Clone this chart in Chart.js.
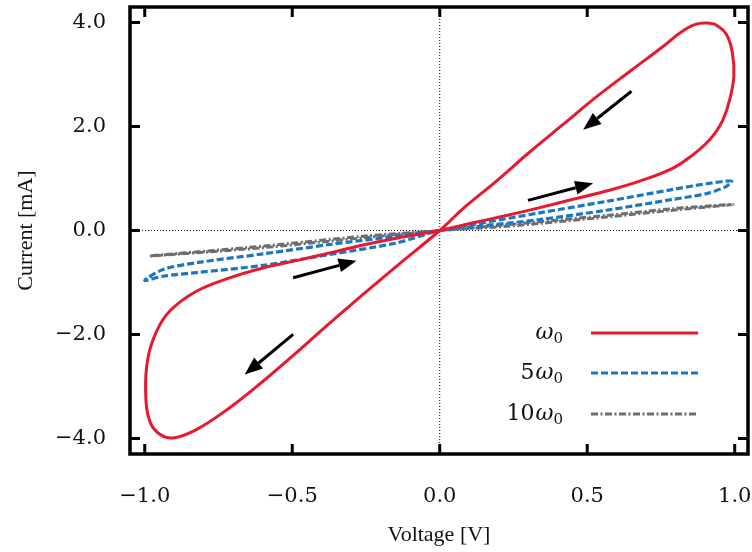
<!DOCTYPE html>
<html>
<head>
<meta charset="utf-8">
<script src="https://cdn.jsdelivr.net/npm/chart.js@4"></script>
<style>
  body { margin: 0; background: #fff; }
  canvas { display: block; }
</style>
</head>
<body>
<canvas id="loopChart" width="752" height="552"></canvas>
<script>
// Pinched hysteresis loops (voltage [V], current [mA])
const redV = [0, 0.113, 0.226, 0.339, 0.452, 0.565, 0.678, 0.791, 0.859, 0.90, 0.93, 0.960, 0.983, 0.997, 0.992, 0.972, 0.938, 0.904, 0.864, 0.814, 0.757, 0.644, 0.531, 0.418, 0.305, 0.192, 0.079, 0,
  -0.147, -0.260, -0.373, -0.486, -0.599, -0.712, -0.825, -0.904, -0.949, -0.983, -0.997, -0.989, -0.960, -0.915, -0.825, -0.712, -0.599, -0.486, -0.373, -0.260, -0.147, 0];
const redI = [0, 0.148, 0.29, 0.44, 0.60, 0.76, 0.95, 1.20, 1.46, 1.66, 1.85, 2.13, 2.52, 2.97, 3.42, 3.77, 3.95, 3.99, 3.96, 3.80, 3.54, 3.06, 2.57, 2.04, 1.51, 0.95, 0.42, 0,
  -0.69, -1.23, -1.78, -2.35, -2.90, -3.41, -3.83, -3.99, -3.92, -3.67, -3.09, -2.45, -1.94, -1.55, -1.17, -0.91, -0.72, -0.58, -0.43, -0.28, -0.15, 0];

const blueV = [0, 0.113, 0.339, 0.565, 0.791, 0.904, 0.989, 0.972, 0.904, 0.791, 0.565, 0.339, 0.113, 0,
  -0.147, -0.373, -0.599, -0.825, -0.938, -1.0, -0.938, -0.825, -0.599, -0.373, -0.147, 0];
const blueI = [0, 0.115, 0.34, 0.56, 0.79, 0.90, 0.95, 0.85, 0.71, 0.60, 0.39, 0.21, 0.07, 0,
  -0.24, -0.46, -0.67, -0.81, -0.88, -0.96, -0.75, -0.62, -0.45, -0.27, -0.11, 0];

const grayV = [0, 0.226, 0.565, 0.79, 0.994, 0.79, 0.565, 0.226, 0, -0.26, -0.599, -0.983, -0.599, -0.26, 0];
const grayI = [0, 0.11, 0.29, 0.42, 0.50, 0.39, 0.26, 0.08, 0, -0.14, -0.33, -0.49, -0.30, -0.11, 0];

const seriesPrefix = ['', '5', '10'];   // legend: ω0, 5ω0, 10ω0
const xTicks = [-1.0, -0.5, 0.0, 0.5, 1.0];
const yTicks = [-4.0, -2.0, 0.0, 2.0, 4.0];

// direction arrows: [fromV, fromI, toV, toI]
const arrows = [
  [0.65, 2.68, 0.486, 1.94],
  [0.299, 0.58, 0.52, 0.91],
  [-0.497, -2.0, -0.661, -2.77],
  [-0.497, -0.91, -0.282, -0.58]
];

const toPoints = (vs, is) => vs.map((v, k) => ({ x: v, y: is[k] }));
const fmt = v => (v < 0 ? '\u2212' : '') + Math.abs(v).toFixed(1);

const tickFont = { family: 'DejaVu Serif', size: 21 };
const titleFont = { family: 'Liberation Serif', size: 22 };

// frame, inward ticks on all sides, dotted zero lines
const framePlugin = {
  id: 'frame',
  beforeDatasetsDraw(chart) {
    const { ctx, chartArea: a, scales: { x, y } } = chart;
    ctx.save();
    ctx.strokeStyle = '#000';
    ctx.lineWidth = 1;
    ctx.setLineDash([1, 2]);
    const x0 = x.getPixelForValue(0), y0 = y.getPixelForValue(0);
    ctx.beginPath();
    ctx.moveTo(x0, a.top); ctx.lineTo(x0, a.bottom);
    ctx.moveTo(a.left, y0); ctx.lineTo(a.right, y0);
    ctx.stroke();
    ctx.restore();
  },
  afterDatasetsDraw(chart) {
    const { ctx, chartArea: a, scales: { x, y } } = chart;
    ctx.save();
    ctx.strokeStyle = '#000';
    ctx.lineWidth = 3;
    const len = 10;
    ctx.beginPath();
    xTicks.forEach(t => {
      const px = x.getPixelForValue(t);
      ctx.moveTo(px, a.bottom); ctx.lineTo(px, a.bottom - len);
      ctx.moveTo(px, a.top); ctx.lineTo(px, a.top + len);
    });
    yTicks.forEach(t => {
      const py = y.getPixelForValue(t);
      ctx.moveTo(a.left, py); ctx.lineTo(a.left + len, py);
      ctx.moveTo(a.right, py); ctx.lineTo(a.right - len, py);
    });
    ctx.stroke();
    ctx.lineWidth = 3.5;
    ctx.strokeRect(a.left, a.top, a.right - a.left, a.bottom - a.top);

    // arrows
    ctx.fillStyle = '#000';
    ctx.lineWidth = 3;
    arrows.forEach(([v1, i1, v2, i2]) => {
      const xa = x.getPixelForValue(v1), ya = y.getPixelForValue(i1);
      const xb = x.getPixelForValue(v2), yb = y.getPixelForValue(i2);
      const ang = Math.atan2(yb - ya, xb - xa);
      const hl = 18, hw = 7;
      const bx = xb - hl * Math.cos(ang), by = yb - hl * Math.sin(ang);
      ctx.beginPath();
      ctx.moveTo(xa, ya); ctx.lineTo(bx, by);
      ctx.stroke();
      ctx.beginPath();
      ctx.moveTo(xb, yb);
      ctx.lineTo(bx + hw * Math.sin(ang), by - hw * Math.cos(ang));
      ctx.lineTo(bx - hw * Math.sin(ang), by + hw * Math.cos(ang));
      ctx.closePath();
      ctx.fill();
    });

    // legend
    const rows = [333, 373, 414];
    const textRight = 563, lineL = 591, lineR = 698;
    chart.data.datasets.forEach((ds, k) => {
      const ry = rows[k];
      ctx.strokeStyle = ds.borderColor;
      ctx.lineWidth = ds.borderWidth;
      ctx.setLineDash(ds.borderDash || []);
      ctx.beginPath();
      ctx.moveTo(lineL, ry); ctx.lineTo(lineR, ry);
      ctx.stroke();
      ctx.setLineDash([]);

      ctx.fillStyle = '#111';
      ctx.textBaseline = 'alphabetic';
      ctx.textAlign = 'left';
      ctx.font = '15px "DejaVu Serif"';
      const subW = ctx.measureText('0').width;
      const subX = textRight - subW;
      ctx.fillText('0', subX, ry + 10);
      ctx.font = 'italic 22px "DejaVu Serif"';
      const wW = ctx.measureText('\u03c9').width;
      const wX = subX - wW;
      ctx.fillText('\u03c9', wX, ry + 6);
      if (seriesPrefix[k]) {
        ctx.font = '22px "DejaVu Serif"';
        ctx.textAlign = 'right';
        ctx.fillText(seriesPrefix[k], wX - 1, ry + 6);
      }
    });
    ctx.restore();
  }
};

const ctx = document.getElementById('loopChart').getContext('2d');

new Chart(ctx, {
  type: 'scatter',
  data: {
    datasets: [
      {
        label: 'ω0',
        data: toPoints(redV, redI),
        borderColor: '#e8192e',
        borderWidth: 3,
        showLine: true,
        tension: 0.4,
        pointRadius: 0
      },
      {
        label: '5ω0',
        data: toPoints(blueV, blueI),
        borderColor: '#1b78c0',
        borderWidth: 3.2,
        borderDash: [7, 3],
        showLine: true,
        tension: 0.3,
        pointRadius: 0
      },
      {
        label: '10ω0',
        data: toPoints(grayV, grayI),
        borderColor: '#6e6e6e',
        borderWidth: 3,
        borderDash: [7, 2.5, 2, 2.5],
        showLine: true,
        tension: 0.3,
        pointRadius: 0
      }
    ]
  },
  options: {
    responsive: false,
    animation: false,
    devicePixelRatio: 1,
    layout: { padding: { top: 7, right: 4, left: 0, bottom: 0 } },
    plugins: {
      legend: { display: false },
      tooltip: { enabled: false }
    },
    scales: {
      x: {
        type: 'linear',
        min: -1.05,
        max: 1.045,
        afterBuildTicks: s => { s.ticks = xTicks.map(v => ({ value: v })); },
        afterFit: s => {
          s.height = 98;
          s.paddingLeft = 0;
          s.paddingRight = 0;
        },
        grid: { display: false, drawTicks: false },
        border: { display: false },
        ticks: {
          padding: 30,
          color: '#111',
          font: tickFont,
          maxRotation: 0,
          callback: v => fmt(v)
        },
        title: {
          display: true,
          text: 'Voltage [V]',
          color: '#111',
          font: titleFont,
          padding: { top: 0, bottom: 4 }
        }
      },
      y: {
        type: 'linear',
        min: -4.3,
        max: 4.3,
        afterBuildTicks: s => { s.ticks = yTicks.map(v => ({ value: v })); },
        afterFit: s => {
          s.width = 130;
          s.paddingTop = 0;
          s.paddingBottom = 0;
        },
        grid: { display: false, drawTicks: false },
        border: { display: false },
        ticks: {
          padding: 24,
          color: '#111',
          font: tickFont,
          callback: v => fmt(v)
        },
        title: {
          display: true,
          text: 'Current [mA]',
          color: '#111',
          font: titleFont,
          padding: { top: 13, bottom: 0 }
        }
      }
    }
  },
  plugins: [framePlugin]
});
</script>
</body>
</html>
